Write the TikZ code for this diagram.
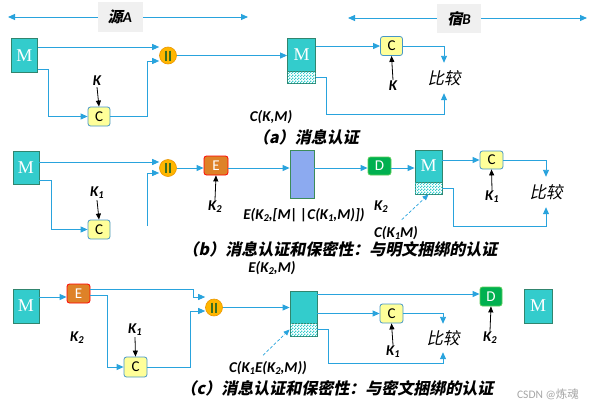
\documentclass[tikz,border=0pt]{standalone}
\usepackage{fontspec}
\setmainfont{Carlito}
\newfontfamily\cjk{Noto Sans CJK SC}[FakeSlant=0.2]
\newfontfamily\cjkup{Noto Sans CJK SC}
\newfontfamily\serifm{Liberation Serif}
\usetikzlibrary{arrows.meta,patterns.meta,calc}
\definecolor{lb}{RGB}{41,163,221}
\definecolor{tealc}{RGB}{51,204,204}
\definecolor{tealb}{RGB}{49,133,110}
\definecolor{cyel}{RGB}{255,255,153}
\definecolor{cbord}{RGB}{70,150,200}
\definecolor{eor}{RGB}{222,130,40}
\definecolor{dgr}{RGB}{0,176,80}
\definecolor{dbord}{RGB}{90,205,90}
\definecolor{bfill}{RGB}{140,170,240}
\definecolor{bgb}{RGB}{60,140,90}
\definecolor{orc}{RGB}{255,182,0}
\definecolor{orb}{RGB}{235,150,0}
\definecolor{barc}{RGB}{60,110,30}
\definecolor{hg}{RGB}{240,240,240}
\definecolor{wmgray}{RGB}{165,165,165}
\newcommand\mysub[1]{\raisebox{-0.3ex}{\fontsize{10.5}{10.5}\selectfont #1}}
\tikzdeclarepattern{name=chk, type=uncolored, bottom left={(0pt,0pt)}, top right={(3pt,3pt)}, tile size={(3pt,3pt)},
  code={\fill (0pt,0pt) rectangle (1.5pt,1.5pt); \fill (1.5pt,1.5pt) rectangle (3pt,3pt);}}
\begin{document}
\begin{tikzpicture}[x=1pt,y=-1pt,
  mbox/.style={draw=tealb, fill=tealc, line width=0.8pt, minimum width=26, minimum height=33, inner sep=0, font=\serifm\fontsize{18}{18}\selectfont, text=white},
  chkbox/.style={draw=tealb, fill=white, line width=0.8pt, postaction={pattern=chk, pattern color=tealc}, inner sep=0, minimum width=27, minimum height=12},
  cbox/.style={draw=cbord, fill=cyel, rounded corners=2.5, line width=0.8pt, minimum width=22, minimum height=19, inner sep=0, font=\fontsize{15}{15}\selectfont},
  ebox/.style={cbox, draw=red, fill=eor, text=white},
  dbox/.style={cbox, draw=dbord, fill=dgr, text=white},
  parcirc/.style={circle, draw=orb, fill=orc, minimum size=17, inner sep=0, line width=0.6pt,
    path picture={\draw[draw=barc, line width=1.1pt] ($(path picture bounding box.center)+(-2,-5)$) -- ++(0,10) ($(path picture bounding box.center)+(2,-5)$) -- ++(0,10);}},
  lab/.style={font=\fontsize{15}{17}\selectfont\bfseries\itshape, inner sep=1pt},
  captxt/.style={font=\cjk\bfseries\fontsize{16}{18}\selectfont, inner sep=0},
  bj/.style={font=\cjk\fontsize{16.5}{18}\selectfont, minimum height=30, inner sep=0},
  ln/.style={draw=lb, line width=0.9pt},
  arr/.style={ln, -{Triangle[length=7pt,width=6pt]}},
  darrtwo/.style={ln, {Triangle[length=7pt,width=6pt]}-{Triangle[length=7pt,width=6pt]}},
  karr/.style={draw=black, line width=0.8pt, -{Triangle[length=6pt,width=5pt]}},
  darr/.style={draw=lb, line width=0.7pt, dash pattern=on 3pt off 2pt, -{Triangle[length=6pt,width=5pt]}},
  hdr/.style={fill=hg, minimum width=45, minimum height=30, inner sep=0, font=\fontsize{15}{16}\selectfont}
]
\useasboundingbox (0,0) rectangle (597,410);
% headers
\coordinate (aL) at (8,17); \coordinate (aR) at (248,17);
\draw[darrtwo] (aL) -- (aR);
\node[hdr] (SA) at (120,17) {{\cjk\bfseries 源}{\bfseries\itshape A}};
\coordinate (bL) at (348,18); \coordinate (bR) at (587,18);
\draw[darrtwo] (bL) -- (bR);
\node[hdr, minimum width=44, minimum height=29] (SB) at (459,18.5) {{\cjk\bfseries 宿}{\bfseries\itshape B}};

% row a
\node[mbox, minimum height=34] (Ma) at (24.5,55.5) {M};
\node[parcirc] (Pa) at (168,55.5) {};
\node[cbox] (Ca) at (99,116.5) {C};
\node[lab] (Ka) at (97,81) {K};
\node[mbox, minimum width=28, minimum height=33] (Ra) at (301.5,54.5) {M};
\node[chkbox, minimum width=28, minimum height=12] (Rac) at (301.5,77) {};
\node[cbox] (Cra) at (391.5,46) {C};
\node[lab] (Kra) at (393,86) {K};
\node[bj] (Bja) at (444,78) {比较};
\node[lab] (La) at (271,117) {C(K,M)};
\node[captxt] (Capa) at (306,137) {（a）消息认证};
\draw[arr] (Ma.east|-0,47) -- (Pa.west|-0,47);
\draw[arr] (Ma.east|-0,69) -- ++(11,0) |- (Ca.west);
\draw[arr] (Ca.east) -| (147,61) -- (Pa.west|-0,61);
\draw[karr] (Ka.south) -- (Ca.north);
\draw[arr] (Pa.east) -- (Ra.west|-Pa.east);
\draw[arr] (Ra.east|-Cra.west) -- (Cra.west);
\draw[arr] (Cra.east) -| (Bja.north);
\draw[arr] (Rac.east) -| (326,114) -| (Bja.south);
\draw[karr] (Kra.north) -- (Cra.south);

% row b
\node[mbox] (Mb) at (26,167.5) {M};
\node[parcirc] (Pb) at (168,168) {};
\node[cbox] (Cb) at (99,229.5) {C};
\node[lab] (Kb1) at (97,193) {K\mysub{1}};
\coordinate (bfree) at (147,226);
\node[ebox, minimum width=24] (Eb) at (216,165.5) {E};
\node[lab] (Kb2) at (215,207) {K\mysub{2}};
\node[draw=bgb, fill=bfill, line width=0.8pt, minimum width=24, minimum height=48, inner sep=0] (Bb) at (302,174) {};
\node[lab] (Lb) at (304,215) {E(K\mysub{2},[M|\,|C(K\mysub{1},M)])};
\node[dbox, minimum width=23, minimum height=18] (Db) at (379.5,166) {D};
\node[lab] (Kb2r) at (381,207) {K\mysub{2}};
\node[mbox, minimum width=27, minimum height=32] (Rb) at (428.5,166) {M};
\node[chkbox] (Rbc) at (428.5,188) {};
\node[cbox, minimum width=23, minimum height=18] (Crb) at (491.5,160) {C};
\node[lab] (Kbr) at (492,197) {K\mysub{1}};
\node[bj] (Bjb) at (546,192) {比较};
\node[lab] (Lcb) at (396,233) {C(K\mysub{1}M)};
\node[captxt] (Capb) at (340,249) {（b）消息认证和保密性：与明文捆绑的认证};
\node[lab] (Lek) at (272,268) {E(K\mysub{2},M)};
\draw[arr] (Mb.east|-0,162) -- (Pb.west|-0,162);
\draw[arr] (Mb.east|-0,180) -- ++(12,0) |- (Cb.west);
\draw[karr] (Kb1.south) -- (Cb.north);
\draw[arr] (bfree) |- (Pb.west|-0,173);
\draw[arr] (Pb.east) -- (Eb.west|-Pb.east);
\draw[karr] (Kb2.north) -- (Eb.south);
\draw[arr] (Eb.east|-0,168) -- (Bb.west|-0,168);
\draw[arr] (Bb.east|-0,168) -- (Db.west|-0,168);
\draw[arr] (Db.east|-0,168) -- (Rb.west|-0,168);
\draw[arr] (Rb.east|-Crb.west) -- (Crb.west);
\draw[arr] (Crb.east) -| (Bjb.north);
\draw[arr] (Rbc.east) -| (453,226) -| (Bjb.south);
\draw[karr] (Kbr.north) -- (Crb.south);
\draw[darr, shorten <=8pt] (Lcb.north) -- (Rbc.south);

% row c
\node[mbox, minimum height=34] (Mc) at (26,306) {M};
\node[ebox, minimum width=23] (Ec) at (78.5,293.5) {E};
\node[lab] (Kc2) at (77,338) {K\mysub{2}};
\node[cbox, minimum width=23, minimum height=20] (Cc) at (135.5,367) {C};
\node[lab] (Kc1) at (135,330) {K\mysub{1}};
\node[parcirc] (Pc) at (214,307.5) {};
\node[mbox, minimum width=27, minimum height=32] (Rc) at (303.5,307) {};
\node[chkbox, minimum height=13] (Rcc) at (303.5,329.5) {};
\node[dbox, minimum width=22] (Dc) at (491,296.5) {D};
\node[cbox, minimum width=23] (Crc) at (391.5,313.5) {C};
\node[bj, minimum height=28] (Bjc) at (443,338) {比较};
\node[lab] (Kc1r) at (393,352) {K\mysub{1}};
\node[lab] (Kc2r) at (490,338) {K\mysub{2}};
\node[lab] (Lcc) at (268,368) {C(K\mysub{1}E(K\mysub{2},M))};
\node[mbox, minimum width=28, minimum height=34] (Mc2) at (538,306) {M};
\node[captxt] (Capc) at (337,388) {（c）消息认证和保密性：与密文捆绑的认证};
\node[font=\fontsize{11.5}{12}\selectfont, text=wmgray, inner sep=0] (WM) at (548,394) {CSDN @{\cjkup 炼魂}};
\draw[arr] (Mc.east|-0,297) -- (Ec.west|-0,297);
\draw[arr] (Ec.east|-0,289) -| (193,297) -- (Pc.west|-0,297);
\draw[arr] (Ec.east|-0,295) -- ++(17,0) |- (Cc.west);
\draw[karr] (Kc1.south) -- (Cc.north);
\draw[arr] (Cc.east) -| (190,311) -- (Pc.west|-0,311);
\draw[arr] (Pc.east) -- (Rc.west|-Pc.east);
\draw[arr] (Rc.east|-0,294) -- (Dc.west|-0,294);
\draw[arr] (Rc.east|-Crc.west) -- (Crc.west);
\draw[arr] (Crc.east) -| (Bjc.north);
\draw[arr] (Rcc.east) -| (328,363) -| (Bjc.south);
\draw[karr] (Kc1r.north) -- (Crc.south);
\draw[karr] (Kc2r.north) -- (Dc.south);
\draw[darr, shorten <=7pt] ([xshift=-10pt]Lcc.north) -- (Rcc.west);
\end{tikzpicture}
\end{document}
